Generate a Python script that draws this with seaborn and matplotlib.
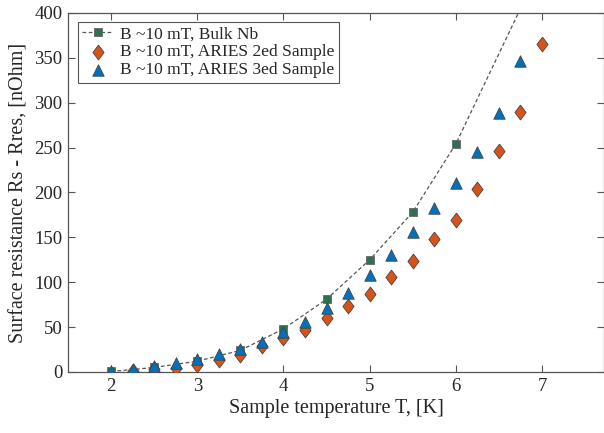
import numpy as np
import pandas as pd
import seaborn as sns
import matplotlib.pyplot as plt

# values
t_bulk = [2.0, 2.5, 3.0, 3.5, 4.0, 4.5, 5.0, 5.5, 6.0, 7.0]
r_bulk = [0.5, 5, 12, 24, 48, 81, 125, 178, 254, 455]

t_s2 = [2.25, 2.5, 2.75, 3.0, 3.25, 3.5, 3.75, 4.0, 4.25, 4.5, 4.75, 5.0,
        5.25, 5.5, 5.75, 6.0, 6.25, 6.5, 6.75, 7.0]
r_s2 = [1, 3, 4, 8, 13.5, 18.5, 28.5, 38, 47, 60, 73, 87,
        106, 124, 148, 169, 204, 246, 290, 365]

t_s3 = [2.0, 2.25, 2.5, 2.75, 3.0, 3.25, 3.5, 3.75, 4.0, 4.25, 4.5, 4.75,
        5.0, 5.25, 5.5, 5.75, 6.0, 6.25, 6.5, 6.75]
r_s3 = [1.5, 3.5, 6.5, 10, 14.5, 20, 26, 33, 45, 56, 71, 88,
        107.5, 130.5, 156, 183, 210.5, 245, 288, 347]

lab_bulk = "B ~10 mT, Bulk Nb"
lab_s2 = "B ~10 mT, ARIES 2ed Sample"
lab_s3 = "B ~10 mT, ARIES 3ed Sample"

sns.set_style("ticks")
plt.rcParams['font.family'] = ['Liberation Serif', 'DejaVu Serif']

fig = plt.figure(figsize=(6.04, 4.33), dpi=100)
ax = fig.add_axes([0.1126, 0.141, 0.8874, 0.829])

df_bulk = pd.DataFrame({"T": t_bulk, "R": r_bulk})
df_s2 = pd.DataFrame({"T": t_s2, "R": r_s2})
df_s3 = pd.DataFrame({"T": t_s3, "R": r_s3})

# matlab-like diamond, a bit wider than matplotlib's thin 'd'
diamond = [(0, 1), (0.75, 0), (0, -1), (-0.75, 0), (0, 1)]

sns.lineplot(data=df_bulk, x="T", y="R", ax=ax, color="#555555", linestyle=(0, (3, 2)),
             linewidth=0.9, marker="s", markersize=6, markerfacecolor="#2f7052",
             markeredgecolor="#666666", markeredgewidth=0.6, label=lab_bulk, zorder=3)
sns.scatterplot(data=df_s2, x="T", y="R", ax=ax, marker=diamond, s=115, color="#d95319",
                edgecolor="#444444", linewidth=0.6, label=lab_s2, zorder=4)
sns.scatterplot(data=df_s3, x="T", y="R", ax=ax, marker="^", s=68, color="#0072bd",
                edgecolor="#444444", linewidth=0.6, label=lab_s3, zorder=5)

ax.set_xlim(1.5, 7.72)
ax.set_ylim(0, 400)
ax.set_xticks([2, 3, 4, 5, 6, 7])
ax.set_yticks(np.arange(0, 401, 50))
ax.tick_params(direction="in", top=True, right=True, length=5, width=0.8,
               color="#555555", labelsize=13.5, labelcolor="#262626", pad=4)
for s in ax.spines.values():
    s.set_color("#555555")
    s.set_linewidth(0.9)

ax.set_xlabel("Sample temperature T, [K]", fontsize=14.5, color="#262626", labelpad=3)
ax.set_ylabel("Surface resistance Rs - Rres, [nOhm]", fontsize=14.5, color="#262626", labelpad=4)

leg = ax.legend(loc="upper left", bbox_to_anchor=(0.018, 0.975), fontsize=12.5,
                frameon=True, fancybox=False, edgecolor="#555555", framealpha=1,
                handlelength=1.8, handletextpad=0.4, borderpad=0.25, labelspacing=0.1,
                borderaxespad=0)
leg.get_frame().set_linewidth(0.8)

fig.savefig("out.png", dpi=100)
